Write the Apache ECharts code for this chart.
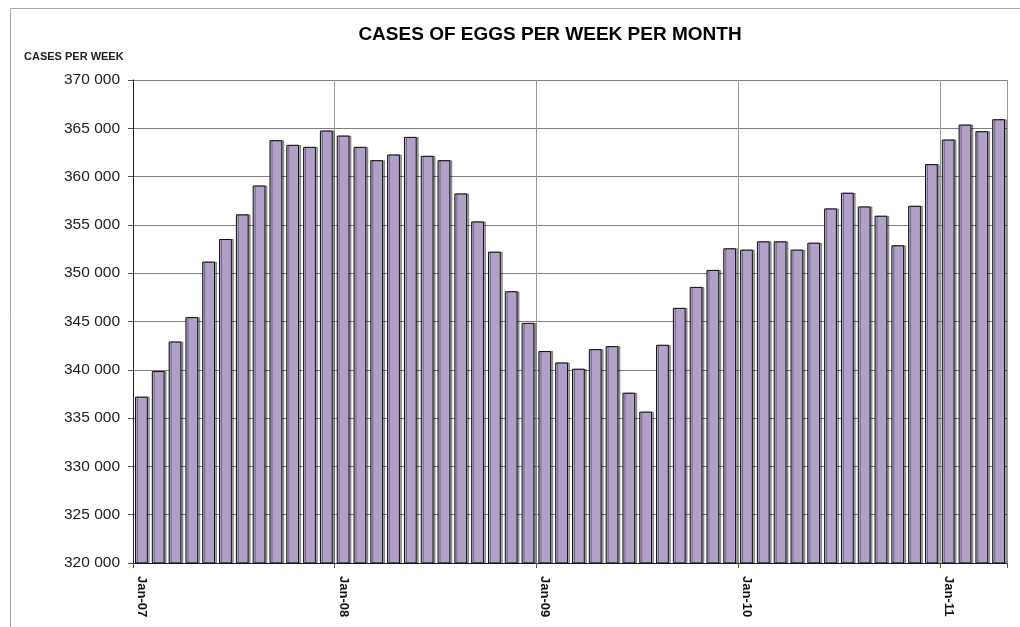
<!DOCTYPE html>
<html>
<head>
<meta charset="utf-8">
<script src="https://cdn.jsdelivr.net/npm/echarts@6/dist/echarts.min.js"></script>
<style>html,body{margin:0;padding:0;background:#fff}#c{width:1020px;height:627px}</style>
</head>
<body>
<div id="c"></div>
<script>
var years = ['07','08','09','10','11'];
var months = ['Jan','Feb','Mar','Apr','May','Jun','Jul','Aug','Sep','Oct','Nov','Dec'];
var categories = [];
years.forEach(function(y){ months.forEach(function(m){ categories.push(m + '-' + y); }); });
categories = categories.slice(0, 52);

var casesPerWeek = [
  337220, 339870, 342930, 345450, 351200, 353540, 356090, 359080, 363770, 363290, 363080, 364770,
  364250, 363080, 361700, 362290, 364110, 362150, 361700, 358260, 355360, 352230, 348130, 344860,
  341940, 340760, 340110, 342140, 342450, 337630, 335670, 342590, 346410, 348580, 350340, 352580,
  352440, 353300, 353300, 352440, 353160, 356710, 358330, 356910, 355950, 352890, 356980, 361290,
  363840, 365390, 364700, 365940
];

var yMin = 320000, yMax = 370000, yStep = 5000;

var chart = echarts.init(document.getElementById('c'));
function janOnly(i){ return i % 12 === 0; }
chart.setOption({
  animation: false,
  backgroundColor: '#fff',
  graphic: [
    { type: 'rect', shape: { x: 10.5, y: 8.5, width: 1030, height: 640 }, style: { fill: 'none', stroke: '#aaa', lineWidth: 1 }, silent: true }
  ],
  title: [
    { text: 'CASES OF EGGS PER WEEK PER MONTH', left: 550, top: 25, textAlign: 'center', padding: 0,
      textStyle: { fontFamily: 'Liberation Sans, Arial', fontSize: 19, fontWeight: 'bold', color: '#000' } },
    { text: 'CASES PER WEEK', left: 24, top: 51, padding: 0,
      textStyle: { fontFamily: 'Liberation Sans, Arial', fontSize: 11, fontWeight: 'bold', color: '#222' } }
  ],
  grid: { left: 133, right: 13, top: 80, bottom: 64 },
  xAxis: {
    type: 'category',
    data: categories,
    boundaryGap: true,
    axisLine: { lineStyle: { color: '#222', width: 1 } },
    axisTick: { show: true, interval: function(i){ return janOnly(i); }, length: 5, lineStyle: { color: '#555' } },
    axisLabel: { interval: function(i){ return janOnly(i); }, rotate: -90, margin: 13,
      fontFamily: 'Liberation Sans, Arial', fontSize: 13, fontWeight: 'bold', color: '#111' },
    splitLine: { show: true, interval: function(i){ return janOnly(i); }, lineStyle: { color: '#999', width: 1 } }
  },
  yAxis: {
    type: 'value',
    min: yMin, max: yMax, interval: yStep,
    axisLine: { show: true, lineStyle: { color: '#222' } },
    axisTick: { show: true, length: 5, lineStyle: { color: '#555' } },
    axisLabel: { margin: 13, fontFamily: 'Liberation Sans, Arial', fontSize: 15.5, color: '#222',
      formatter: function(v){ return String(v).replace(/\B(?=(\d{3})+(?!\d))/g, ' '); } },
    splitLine: { show: true, lineStyle: { color: '#808080', width: 1 } }
  },
  series: [{
    type: 'bar',
    data: casesPerWeek,
    barCategoryGap: '24%',
    itemStyle: { color: '#B1A1C8', borderColor: '#111', borderWidth: 1,
      shadowColor: 'rgba(0,0,0,0.35)', shadowOffsetX: 2, shadowOffsetY: 0, shadowBlur: 0 }
  }]
});
</script>
</body>
</html>
